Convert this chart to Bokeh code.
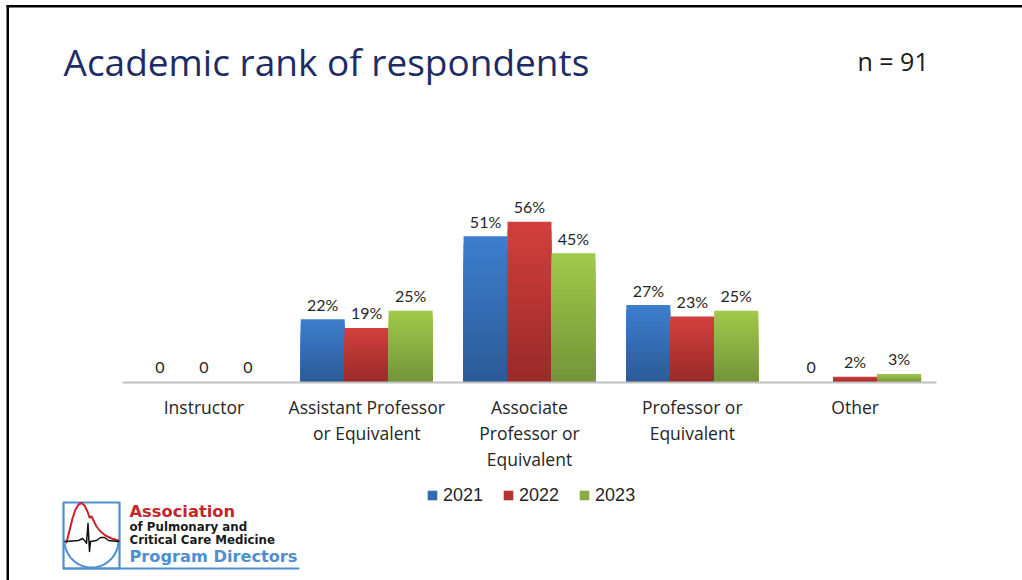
import numpy as np
from bokeh.plotting import figure
from bokeh.models import (Label, PolyAnnotation, Legend, LegendItem, ColumnDataSource,
                          Range1d, LinearAxis, FixedTicker)
from bokeh.core.properties import value
from bokeh.embed import file_html
from bokeh.resources import INLINE

# ---------------- data ----------------
categories = ["Instructor",
              "Assistant Professor\nor Equivalent",
              "Associate\nProfessor or\nEquivalent",
              "Professor or\nEquivalent",
              "Other"]
years = ["2021", "2022", "2023"]
pct_2021 = [0, 22, 51, 27, 0]
pct_2022 = [0, 19, 56, 23, 2]
pct_2023 = [0, 25, 45, 25, 3]
title_text = "Academic rank of respondents"
n_text = "n = 91"
logo_lines = ["Association", "of Pulmonary and", "Critical Care Medicine", "Program Directors"]

series = [pct_2021, pct_2022, pct_2023]
grad = [("#3E7ECE", "#2B5A96"),   # blue  top -> bottom
        ("#D2403D", "#982A29"),   # red
        ("#A1C94B", "#739438")]   # green

# ---------------- geometry ----------------
W, H = 1022, 580
AX_L, AX_R, BASE = 122, 936, 382     # axis extent / baseline in page pixels
PPU = 2.87                           # pixels per percentage point
CATW = (AX_R - AX_L) / len(categories)

def X(px):  # page pixel x -> data x
    return (px - AX_L) / CATW

def Y(py):  # page pixel y -> data y
    return (BASE - py) / PPU

p = figure(width=W, height=H, output_backend="svg", toolbar_location=None,
           x_range=Range1d(X(0), X(W)), y_range=Range1d(Y(H), Y(0)),
           x_axis_location=None, y_axis_location=None,
           min_border=0, min_border_left=0, min_border_right=0,
           min_border_top=0, min_border_bottom=0)
p.title.visible = False
p.outline_line_color = None
p.xgrid.visible = False
p.ygrid.visible = False
p.background_fill_color = "white"
p.border_fill_color = "white"

def lerp(c1, c2, t):
    a = [int(c1[i:i + 2], 16) for i in (1, 3, 5)]
    b = [int(c2[i:i + 2], 16) for i in (1, 3, 5)]
    return "#%02x%02x%02x" % tuple(round(a[i] + (b[i] - a[i]) * t) for i in range(3))

xcat = [i + 0.5 for i in range(len(categories))]
BW = 0.27
N = 18
LIFT = 6 / PPU      # extra gap between bar top and its label
legend_items = []
for j, (yr, vals) in enumerate(zip(years, series)):
    off = (j - 1) * BW
    xs = [c + off for c in xcat]
    mid = None
    for k in range(N):
        frac = 1 - k / N
        src = ColumnDataSource(dict(x=xs, top=[v * frac for v in vals]))
        c = lerp(grad[j][0], grad[j][1], (k + 0.5) / N)
        r = p.vbar(x="x", top="top", bottom=0, width=BW, source=src,
                   fill_color=c, line_color=None)
        if k == N // 2:
            mid = r
    legend_items.append(LegendItem(label=yr, renderers=[mid]))
    lbl = ["0" if v == 0 else f"{v}%" for v in vals]
    tsrc = ColumnDataSource(dict(x=xs, v=[v + LIFT for v in vals], lbl=lbl))
    p.text(x="x", y="v", text="lbl", source=tsrc,
           text_align="center", text_baseline="alphabetic", y_offset=-9,
           text_font=value("Lato"), text_font_size="16px", text_color="#262626")

ax = LinearAxis(fixed_location=0, bounds=(0, len(categories)),
                ticker=FixedTicker(ticks=xcat),
                major_label_overrides={x: c for x, c in zip(xcat, categories)})
ax.axis_line_color = "#C0C0C0"
ax.axis_line_width = 2
ax.major_tick_line_color = None
ax.minor_tick_line_color = None
ax.major_tick_out = 0
ax.major_tick_in = 0
ax.major_label_standoff = 12
ax.major_label_text_font = "Open Sans"
ax.major_label_text_font_size = "17.5px"
ax.major_label_text_color = "#262626"
ax.major_label_text_line_height = 1.09
p.add_layout(ax, "below")

legend = Legend(items=legend_items, orientation="horizontal", location=(426, H - 505.5),
                glyph_width=12, glyph_height=12, label_standoff=5, spacing=19,
                padding=0, margin=0, border_line_color=None, background_fill_alpha=0,
                label_text_font="Liberation Sans", label_text_font_size="18px",
                label_text_color="#262626")
p.add_layout(legend)

# ---------------- titles ----------------
p.add_layout(Label(x=X(63), y=Y(60.5), text=title_text, text_font="Open Sans",
                   text_font_size="37px", text_color="#1E2C66", text_baseline="alphabetic"))
p.add_layout(Label(x=X(857), y=Y(60), text=n_text, text_font="Open Sans",
                   text_font_size="25px", text_color="#1a1a1a", text_baseline="alphabetic"))

# ---------------- slide border ----------------
def poly(pts, color, width, fill=None):
    xs = [X(a) for a, b in pts]
    ys = [Y(b) for a, b in pts]
    return PolyAnnotation(xs=xs, ys=ys, line_color=color, line_width=width,
                          fill_color=fill, fill_alpha=1 if fill else 0,
                          line_alpha=1, line_join="round")

def open_line(pts, color, width):
    pts = list(pts) + list(reversed(pts))[1:]
    return poly(pts, color, width)

p.add_layout(poly([(6, 4.5), (1022, 4.5), (1022, 7), (6, 7)], None, 0, "black"))
p.add_layout(poly([(6, 4.5), (8.5, 4.5), (8.5, 580), (6, 580)], None, 0, "black"))

# ---------------- logo ----------------
LB = "#4F8FCF"
p.add_layout(poly([(63, 502), (119, 502), (119, 568), (63, 568)], LB, 2.2))
p.add_layout(open_line([(63, 568), (298, 568)], LB, 2.2))
t = np.linspace(0, np.pi, 30)
arc = [(91 - 27 * np.cos(a), 540 + 27 * np.sin(a)) for a in t]
p.add_layout(open_line(arc, LB, 2))
red_curve = [(66, 542), (69, 530), (72, 518), (75, 509), (78, 504), (81, 502.5), (84, 505),
             (87, 511), (89, 517), (91, 516), (93, 520), (96, 526), (100, 531), (105, 535),
             (111, 538), (118, 540)]
p.add_layout(open_line(red_curve, "#CC1F2E", 2))
ecg = [(65, 541), (78, 540), (82, 538), (85, 541), (86, 543), (87.5, 523), (89, 551),
       (90, 541), (96, 540), (100, 537), (104, 537), (108, 540), (118, 541)]
p.add_layout(open_line(ecg, "#111111", 1.5))

p.add_layout(Label(x=X(129), y=Y(511), text=logo_lines[0], text_font="DejaVu Sans",
                   text_font_style="bold", text_font_size="16.3px", text_color="#C1272D",
                   text_baseline="alphabetic"))
p.add_layout(Label(x=X(129), y=Y(526.5), text=logo_lines[1], text_font="DejaVu Sans",
                   text_font_style="bold", text_font_size="11.8px", text_color="#1a1a1a",
                   text_baseline="alphabetic"))
p.add_layout(Label(x=X(129), y=Y(539.5), text=logo_lines[2], text_font="DejaVu Sans",
                   text_font_style="bold", text_font_size="11.8px", text_color="#1a1a1a",
                   text_baseline="alphabetic"))
p.add_layout(Label(x=X(129), y=Y(555.5), text=logo_lines[3], text_font="DejaVu Sans",
                   text_font_style="bold", text_font_size="16.2px", text_color=LB,
                   text_baseline="alphabetic"))

open("out.html", "w").write(file_html(p, INLINE))
